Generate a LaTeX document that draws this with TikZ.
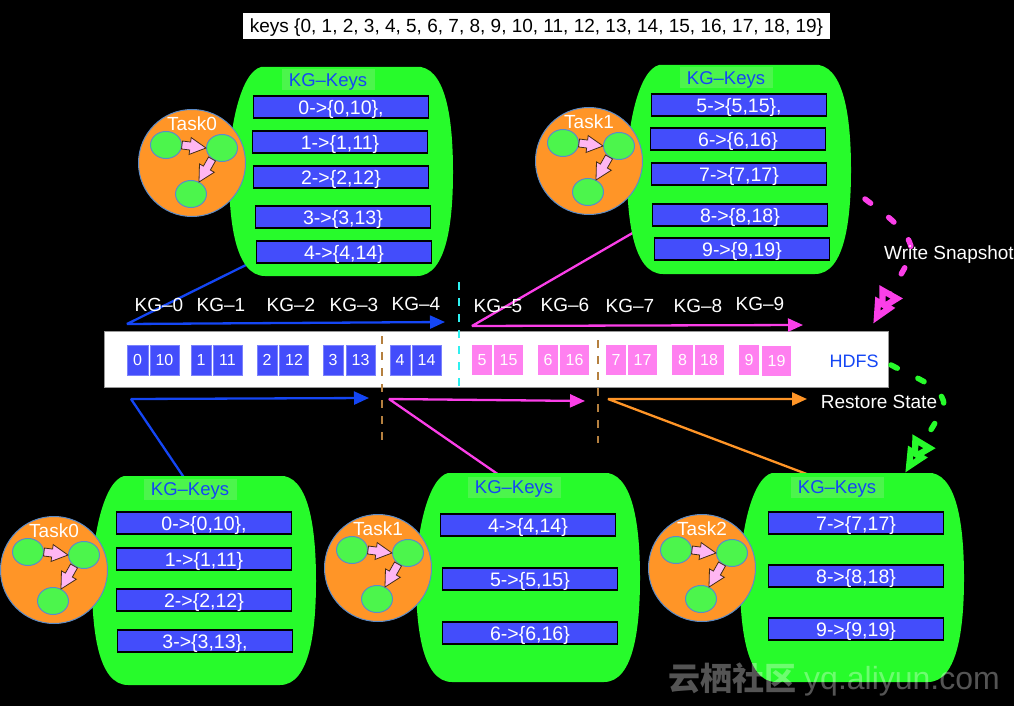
\documentclass[tikz,border=0pt]{standalone}
\usepackage{fontspec}
\setmainfont{Liberation Sans}
\newfontfamily\cjkwm{Noto Sans CJK SC}
\usetikzlibrary{arrows.meta,calc,shapes.geometric}
\definecolor{blobgreen}{HTML}{27FB2B}
\definecolor{lightgreen}{HTML}{4CF54C}
\definecolor{rowblue}{HTML}{434DFB}
\definecolor{linkblue}{HTML}{1446F5}
\definecolor{mag}{HTML}{FB3FE8}
\definecolor{cellpink}{HTML}{FF80F0}
\definecolor{orangefill}{HTML}{FF9527}
\definecolor{edgeblue}{HTML}{5B8BC8}
\definecolor{brownd}{HTML}{B5803F}
\definecolor{arrowpink}{HTML}{FFB6F2}
\definecolor{cyand}{HTML}{2FF0F0}
\tikzset{
 fs/.style={font=\fontsize{#1}{#1}\selectfont,text height=0.72*#1 pt,text depth=0pt},
 keyrow/.style={draw=black,line width=1.2pt,fill=rowblue,text=white,minimum width=175pt,minimum height=22pt,inner sep=0pt,fs=19.5},
 keytitle/.style={fill=lightgreen,text=linkblue,minimum width=93pt,minimum height=21pt,inner sep=0pt,fs=18.5},
 taskc/.style={circle,draw=edgeblue,line width=1pt,fill=orangefill,minimum size=107pt,inner sep=0pt},
 subc/.style={ellipse,draw=edgeblue,line width=1pt,fill=lightgreen,minimum width=31pt,minimum height=27pt,inner sep=0pt},
 wlabel/.style={text=white,inner sep=0pt,fs=19},
 cellb/.style={fill=rowblue,draw=rowblue!70!white,line width=.5pt,text=white,minimum height=30pt,inner sep=0pt,fs=16},
 cellp/.style={fill=cellpink,text=white,minimum height=30pt,inner sep=0pt,fs=16},
 conn/.style={line width=2.3pt,-{Triangle[length=15pt,width=13pt]},line join=bevel},
 dashv/.style={line width=2.8pt,dash pattern=on 8pt off 8pt},
 dotconn/.style={line width=5.5pt,line cap=round,dash pattern=on 7pt off 23pt},
 dbltip/.style={-{Triangle[length=25pt,width=25pt,open,fill=black,line width=7pt,sep=-13pt]Triangle[length=25pt,width=21pt,open,fill=black,line width=6.5pt]}},
 blockarr/.style={draw=black!65!brown,line width=.8pt,fill=arrowpink,line join=miter},
}
\newcommand{\kgblob}[3]{\fill[blobgreen,shift={(#2,#3)}] (32,0) -- (192,0)
  .. controls (219,5) and (224,60) .. (224,105) .. controls (224,150) and (219,209) .. (188,209)
  -- (36,209) .. controls (5,209) and (0,150) .. (0,105) .. controls (0,60) and (12,5) .. (32,0) -- cycle;
  \coordinate (#1) at (#2+112,#3+104);}
\newcommand{\blockarrow}[2]{\coordinate (nk) at ($(#2)!16pt!(#1)$);
  \draw[blockarr] ($(#1)!4pt!90:(#2)$) -- ($(nk)!4pt!-90:(#1)$) -- ($(nk)!8.5pt!-90:(#1)$) -- (#2)
   -- ($(nk)!8.5pt!90:(#1)$) -- ($(nk)!4pt!90:(#1)$) -- ($(#1)!4pt!-90:(#2)$) -- cycle;}
\newcommand{\taskcirc}[4]{%
  \node[taskc] (#1) at (#2,#3) {};
  \node[wlabel] (#1t) at (#2,#3-39) {#4};
  \node[subc] (#1a) at (#2-26,#3-18) {};
  \node[subc] (#1b) at (#2+30,#3-15) {};
  \node[subc] (#1c) at (#2-1,#3+31) {};
  \coordinate (#1p) at (#1a.east);
  \coordinate (#1q) at (#1b.west);
  \blockarrow{#1p}{#1q}
  \coordinate (#1r) at (#2+20,#3-4);
  \coordinate (#1s) at (#2+7,#3+19);
  \blockarrow{#1r}{#1s}}
\begin{document}
\begin{tikzpicture}[x=1pt,y=-1pt]
\useasboundingbox (0,0) rectangle (1014,706);
\fill[black] (0,0) rectangle (1014,706);

% band
\node[fill=white,draw=black!40,line width=.8pt,minimum width=784pt,minimum height=56pt,inner sep=0pt] (band) at (496,359) {};
\node[fill=white,text=black,minimum width=587pt,minimum height=26pt,inner sep=0pt,fs=19] (keys) at (536.5,26) {keys \{0, 1, 2, 3, 4, 5, 6, 7, 8, 9, 10, 11, 12, 13, 14, 15, 16, 17, 18, 19\}};

% connectors (under the blobs)
\coordinate (t1) at (250,263); \coordinate (t1m) at (127,324); \coordinate (t1e) at (445,322);
\draw[conn,linkblue] (t1) -- (t1m) -- (t1e);
\coordinate (t2) at (636,231); \coordinate (t2m) at (472,326); \coordinate (t2e) at (803,325);
\draw[conn,mag] (t2) -- (t2m) -- (t2e);
\coordinate (b1) at (185,479); \coordinate (b1m) at (131,399); \coordinate (b1e) at (369,398);
\draw[conn,linkblue] (b1) -- (b1m) -- (b1e);
\coordinate (b2) at (499,475); \coordinate (b2m) at (389,399); \coordinate (b2e) at (585,401);
\draw[conn,mag] (b2) -- (b2m) -- (b2e);
\coordinate (b3) at (812,476); \coordinate (b3m) at (608,399); \coordinate (b3e) at (807,399);
\draw[conn,orangefill] (b3) -- (b3m) -- (b3e);

% blobs
\kgblob{blobA}{229}{67}
\kgblob{blobB}{627}{65}
\kgblob{blobC}{92}{476}
\kgblob{blobD}{416}{473}
\kgblob{blobE}{740}{473}

\node[keytitle] (tA) at (328,80) {KG–Keys};
\node[keytitle] (tB) at (726,78) {KG–Keys};
\node[keytitle] (tC) at (190,489) {KG–Keys};
\node[keytitle] (tD) at (514,487) {KG–Keys};
\node[keytitle] (tE) at (837,487) {KG–Keys};

\node[keyrow] (a0) at (341,107) {0->\{0,10\},};
\node[keyrow] (a1) at (340,142) {1->\{1,11\}};
\node[keyrow] (a2) at (341,177) {2->\{2,12\}};
\node[keyrow] (a3) at (343,217) {3->\{3,13\}};
\node[keyrow] (a4) at (344,252) {4->\{4,14\}};
\node[keyrow] (b5) at (739,105) {5->\{5,15\},};
\node[keyrow] (b6) at (738,139) {6->\{6,16\}};
\node[keyrow] (b7) at (739,174) {7->\{7,17\}};
\node[keyrow] (b8) at (740,215) {8->\{8,18\}};
\node[keyrow] (b9) at (742,249) {9->\{9,19\}};
\node[keyrow] (c0) at (204,523) {0->\{0,10\},};
\node[keyrow] (c1) at (204,559) {1->\{1,11\}};
\node[keyrow] (c2) at (204,600) {2->\{2,12\}};
\node[keyrow] (c3) at (205,641) {3->\{3,13\},};
\node[keyrow] (d4) at (528,525) {4->\{4,14\}};
\node[keyrow] (d5) at (530,579) {5->\{5,15\}};
\node[keyrow] (d6) at (530,633) {6->\{6,16\}};
\node[keyrow] (e7) at (856,523) {7->\{7,17\}};
\node[keyrow] (e8) at (856,576) {8->\{8,18\}};
\node[keyrow] (e9) at (856,629) {9->\{9,19\}};

% tasks
\taskcirc{ta}{192}{163}{Task0}
\taskcirc{tb}{589}{161}{Task1}
\taskcirc{tc}{54}{570}{Task0}
\taskcirc{td}{378}{568}{Task1}
\taskcirc{te}{702}{568}{Task2}

% KG labels
\node[wlabel] (k0) at (159,305) {KG–0};
\node[wlabel] (k1) at (221,305) {KG–1};
\node[wlabel] (k2) at (291,305) {KG–2};
\node[wlabel] (k3) at (354,305) {KG–3};
\node[wlabel] (k4) at (416,304) {KG–4};
\node[wlabel] (k5) at (498,306) {KG–5};
\node[wlabel] (k6) at (565,305) {KG–6};
\node[wlabel] (k7) at (630,306) {KG–7};
\node[wlabel] (k8) at (698,306) {KG–8};
\node[wlabel] (k9) at (760,304) {KG–9};

% cells
\node[cellb,minimum width=20.5pt] (x0) at (137.5,360) {0};
\node[cellb,minimum width=29pt] (x10) at (164.5,360) {10};
\node[cellb,minimum width=20.5pt] (x1) at (201,360) {1};
\node[cellb,minimum width=29pt] (x11) at (227.5,360) {11};
\node[cellb,minimum width=20.5pt] (x2) at (267,360) {2};
\node[cellb,minimum width=29pt] (x12) at (294,360) {12};
\node[cellb,minimum width=20.5pt] (x3) at (333,360) {3};
\node[cellb,minimum width=29pt] (x13) at (360.5,360) {13};
\node[cellb,minimum width=20.5pt] (x4) at (400,360) {4};
\node[cellb,minimum width=29pt] (x14) at (426.5,360) {14};
\node[cellp,minimum width=20.5pt] (x5) at (482,360) {5};
\node[cellp,minimum width=29pt] (x15) at (508.5,360) {15};
\node[cellp,minimum width=20.5pt] (x6) at (548,360) {6};
\node[cellp,minimum width=29pt] (x16) at (574.5,360) {16};
\node[cellp,minimum width=20.5pt] (x7) at (616,360) {7};
\node[cellp,minimum width=29pt] (x17) at (642.5,360) {17};
\node[cellp,minimum width=20.5pt] (x8) at (682.5,360) {8};
\node[cellp,minimum width=29pt] (x18) at (709,360) {18};
\node[cellp,minimum width=20.5pt] (x9) at (749,360) {9};
\node[cellp,minimum width=29pt] (x19) at (776.5,361) {19};
\node[text=linkblue,inner sep=0pt,fs=18] (hdfs) at (854,361) {HDFS};

% dashed separators
\coordinate (s1a) at (459,282); \coordinate (s1b) at (459,386);
\draw[dashv,cyand] (s1a) -- (s1b);
\coordinate (s2a) at (382,336); \coordinate (s2b) at (382,440);
\draw[dashv,brownd] (s2a) -- (s2b);
\coordinate (s3a) at (598,340); \coordinate (s3b) at (598,443);
\draw[dashv,brownd] (s3a) -- (s3b);

% snapshot / restore
\coordinate (w0) at (865,199); \coordinate (w1) at (873,324);
\draw[dotconn,mag,dbltip] (w0) .. controls (890,218) and (922,240) .. (908,262) -- (w1);
\coordinate (r0) at (891,365); \coordinate (r1) at (905,473);
\draw[dotconn,blobgreen,dbltip] (r0) .. controls (915,378) and (960,392) .. (938,418) -- (r1);
\node[wlabel] (ws) at (949,253) {Write Snapshot};
\node[wlabel] (rs) at (879,402) {Restore State};

% watermark
\node[text=white,opacity=.33,inner sep=0pt,fs=32] (wm1) at (732,679) {\cjkwm\bfseries 云栖社区};
\node[text=white,opacity=.33,inner sep=0pt,anchor=west,fs=32] (wm2) at (804,678) {yq.aliyun.com};
\end{tikzpicture}
\end{document}
